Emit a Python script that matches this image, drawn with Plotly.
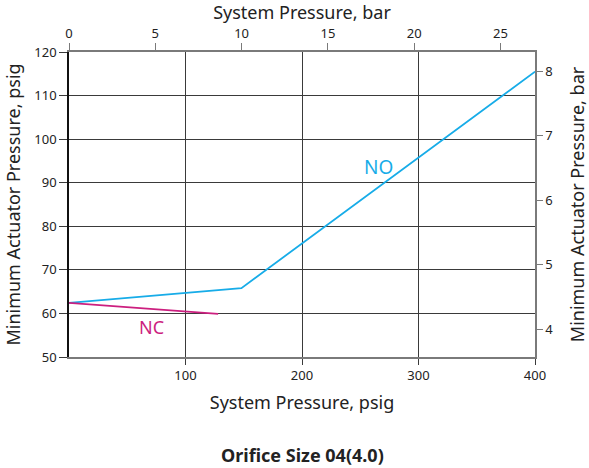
import plotly.graph_objects as go

# System pressure (psig) vs minimum actuator pressure (psig)
no_x = [0, 148, 400]
no_y = [62.4, 65.8, 115.5]
nc_x = [0, 128]
nc_y = [62.4, 59.9]

psig_ticks = [50, 60, 70, 80, 90, 100, 110, 120]
x_ticks = [100, 200, 300, 400]
bar_top_ticks = [0, 5, 10, 15, 20, 25]
bar_right_ticks = [4, 5, 6, 7, 8]

FONT = "Noto Sans, Open Sans, sans-serif"
TXT = "#222222"
BLUE = "#17ace8"
MAGENTA = "#cc1f7f"
GRID = "#3a3a3a"
FRAME = "#7a7a7a"

fig = go.Figure()
fig.add_trace(go.Scatter(x=no_x, y=no_y, mode="lines",
                         line=dict(color=BLUE, width=1.8),
                         showlegend=False, hoverinfo="skip"))
fig.add_trace(go.Scatter(x=nc_x, y=nc_y, mode="lines",
                         line=dict(color=MAGENTA, width=1.8),
                         showlegend=False, hoverinfo="skip"))
# invisible trace to carry the bar-scale axes
fig.add_trace(go.Scatter(x=[0], y=[5], xaxis="x2", yaxis="y2", mode="markers",
                         marker=dict(opacity=0), showlegend=False, hoverinfo="skip"))

tick_font = dict(family=FONT, size=13, color=TXT)
title_font = dict(family=FONT, size=18, color=TXT)

fig.update_layout(
    width=589, height=468,
    margin=dict(l=69, r=54, t=52, b=111),
    paper_bgcolor="white", plot_bgcolor="white",
    font=dict(family=FONT, color=TXT),
    xaxis=dict(range=[0, 400], tickvals=x_ticks, showgrid=True, gridcolor=GRID,
               gridwidth=1, zeroline=False, showline=True, linecolor=FRAME,
               linewidth=1.5, ticks="outside", ticklen=6, tickcolor=GRID,
               tickfont=tick_font, automargin=False,
               title=dict(text="System Pressure, psig", font=title_font, standoff=13)),
    xaxis2=dict(range=[0, 27.0], tickvals=bar_top_ticks, overlaying="x", side="top",
                anchor="y", showgrid=False, zeroline=False, showline=True,
                linecolor=FRAME, linewidth=1.5, ticks="outside", ticklen=7,
                tickcolor=FRAME, tickfont=tick_font, automargin=False,
                title=dict(text="System Pressure, bar", font=title_font, standoff=1)),
    yaxis=dict(range=[50, 120], tickvals=psig_ticks, showgrid=True, gridcolor=GRID,
               gridwidth=1, zeroline=False, showline=True, linecolor="#111111",
               linewidth=1.5, ticks="outside", ticklen=8, tickcolor=GRID,
               tickfont=tick_font, automargin=False,
               title=dict(text="Minimum Actuator Pressure, psig", font=title_font,
                          standoff=9)),
    yaxis2=dict(range=[3.57, 8.30], tickvals=bar_right_ticks, overlaying="y",
                side="right", anchor="x", showgrid=False, zeroline=False,
                showline=True, linecolor=FRAME, linewidth=1.5, ticks="outside",
                ticklen=6, tickcolor=FRAME, tickfont=tick_font, automargin=False,
                title=dict(text="Minimum Actuator Pressure, bar", font=title_font,
                           standoff=32)),
    annotations=[
        dict(x=266, y=93.6, xref="x", yref="y", text="NO", showarrow=False,
             font=dict(family=FONT, size=19, color=BLUE)),
        dict(x=71, y=56.9, xref="x", yref="y", text="NC", showarrow=False,
             font=dict(family=FONT, size=18, color=MAGENTA)),
        dict(x=0.5, y=-0.321, xref="paper", yref="paper", yanchor="middle",
             text="<b>Orifice Size 04(4.0)</b>", showarrow=False,
             font=dict(family=FONT, size=18, color=TXT)),
    ],
)

fig.write_html("out.html")
